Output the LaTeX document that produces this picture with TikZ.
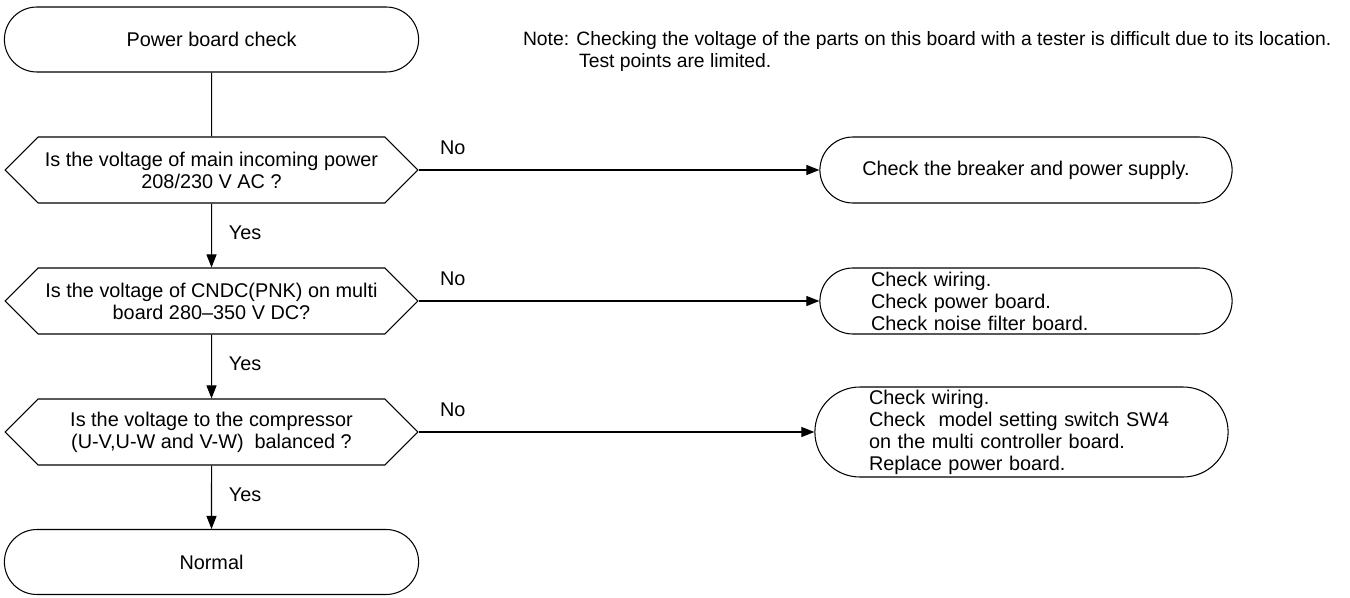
\documentclass[tikz,border=0pt]{standalone}
\usepackage{fontspec}
\setmainfont{Liberation Sans}
\usetikzlibrary{shapes.geometric, shapes.misc, shapes.symbols, arrows.meta, positioning}

\begin{document}
\begin{tikzpicture}[
  x=0.02cm, y=-0.02cm,
  line width=0.6pt,
  font=\fontsize{11.3}{12.5}\selectfont,
  term/.style={draw, rounded rectangle, minimum width=8.52cm,
               minimum height=1.3cm, align=center},
  decide/.style={draw, signal, signal to=east and west, minimum width=8.26cm,
                 minimum height=1.32cm, align=center, inner sep=1pt},
  act/.style={draw, rounded rectangle, minimum width=8.48cm,
              minimum height=1.32cm, align=left, inner ysep=1pt},
  flow/.style={-{Triangle[length=2.6mm, width=2mm]}},
  yeslbl/.style={anchor=west, xshift=0.22cm, yshift=0.05cm},
  nolbl/.style={anchor=west, xshift=0.3cm, yshift=0.44cm}
]
\useasboundingbox (0,0) rectangle (1350,598);
% Main column
\node[term]   (start) at (211.5,39.5) {Power board check};
\node[decide] (d1) at (211.5,170) {Is the voltage of main incoming power\\208/230 V AC ?};
\node[decide] (d2) at (211.5,301) {Is the voltage of CNDC(PNK) on multi\\board 280--350 V DC?};
\node[decide] (d3) at (211.5,432) {Is the voltage to the compressor\\(U-V,U-W and V-W)\ \ balanced ?};
\node[term]   (ok) at (211.5,562) {Normal};
% Remedies
\node[act] (a1) at (1026,170) {Check the breaker and power supply.};
\node[act, text width=6.2cm] (a2) at (1026,301)
  {Check wiring.\\Check power board.\\Check noise filter board.};
\node[act, text width=6.1cm, minimum width=8.5cm, minimum height=1.8cm] (a3) at (1021.5,432)
  {Check wiring.\\Check\ \ model setting switch SW4\\on the multi controller board.\\Replace power board.};
% Note
\node[anchor=north west, inner sep=0, align=left,
      font=\fontsize{11}{12.5}\selectfont] (note) at (522.5,31)
  {Note: Checking the voltage of the parts on this board with a tester is difficult due to its location.\\
   \hspace*{2.9em}Test points are limited.};
% Connectors
\draw (start) -- (d1);
\draw[flow] (d1) -- node[yeslbl] {Yes} (d2);
\draw[flow] (d2) -- node[yeslbl] {Yes} (d3);
\draw[flow] (d3) -- node[yeslbl] {Yes} (ok);
\draw[flow] (d1.east) -- node[nolbl, pos=0] {No} (a1);
\draw[flow] (d2.east) -- node[nolbl, pos=0] {No} (a2);
\draw[flow] (d3.east) -- node[nolbl, pos=0] {No} (a3);
\end{tikzpicture}
\end{document}
